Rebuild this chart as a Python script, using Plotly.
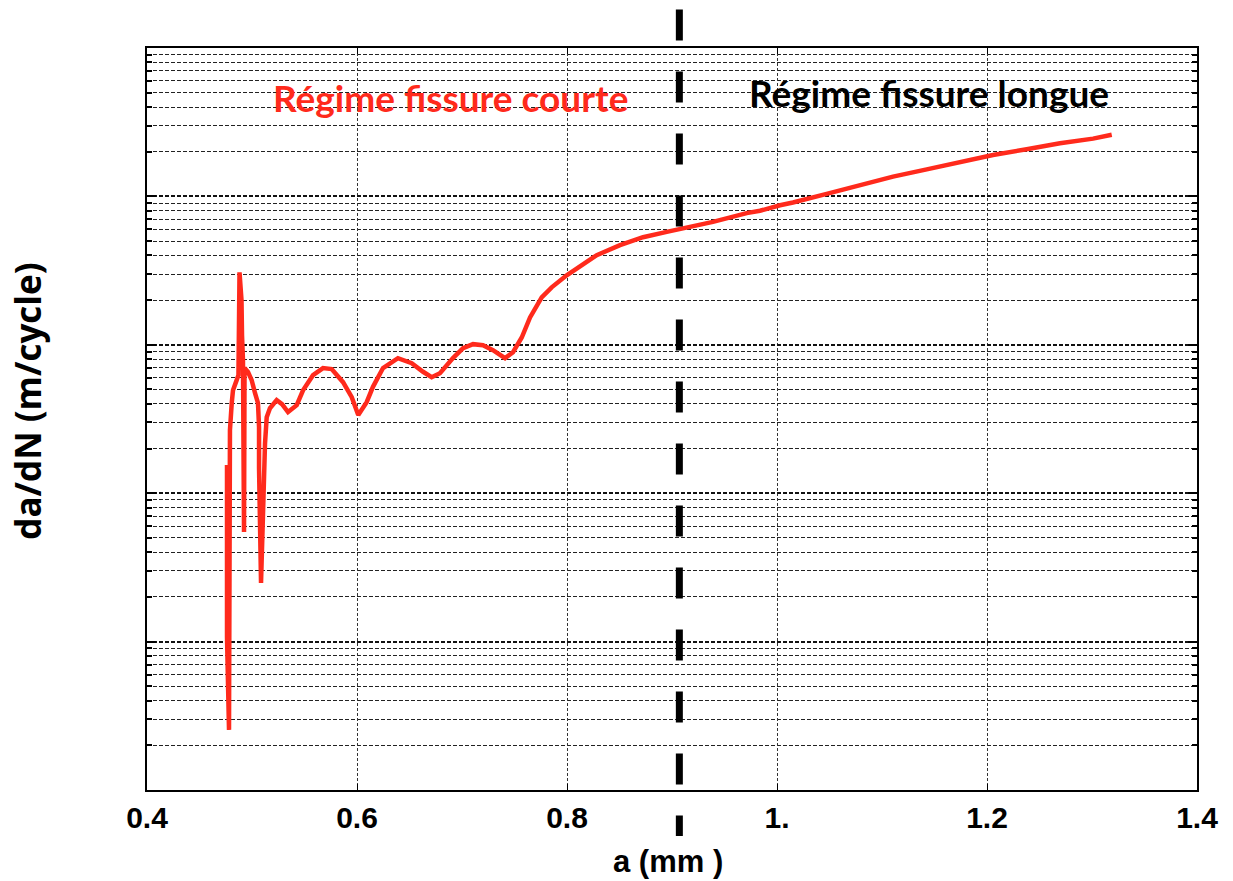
import plotly.graph_objects as go

# crack length a (mm) and crack growth rate da/dN (m/cycle)
a_mm = [0.4762, 0.4762, 0.4781, 0.4790, 0.4807, 0.4819, 0.4854, 0.4871, 0.4881, 0.4900,
        0.4905, 0.4914, 0.4924, 0.4929, 0.4962, 0.4997, 0.5029, 0.5057, 0.5067, 0.5067,
        0.5086, 0.5105, 0.5124, 0.5140, 0.5171, 0.5235, 0.5286, 0.5343, 0.5426, 0.5486,
        0.5581, 0.5676, 0.5759, 0.5867, 0.5950, 0.6012, 0.6092, 0.6152, 0.6248, 0.6390,
        0.6521, 0.6629, 0.6711, 0.6790, 0.6914, 0.7010, 0.7105, 0.7200, 0.7295, 0.7410,
        0.7486, 0.7569, 0.7648, 0.7759, 0.7854, 0.7997, 0.8124, 0.8283, 0.8505, 0.8724,
        0.8950, 0.9076, 0.9390, 0.9711, 0.9838, 1.0029, 1.0152, 1.0473, 1.0790, 1.1105,
        1.1426, 1.1743, 1.2057, 1.2378, 1.2695, 1.3010, 1.3188]
dadn = [1.55e-8, 1.07e-9, 2.54e-10, 2.66e-8, 4.05e-8, 4.94e-8, 5.78e-8, 6.24e-8, 3.08e-7, 2.0e-7,
        1.16e-7, 7.87e-8, 5.47e-9, 6.97e-8, 6.55e-8, 5.78e-8, 4.72e-8, 4.05e-8, 2.79e-8, 1.48e-8,
        2.48e-9, 8.97e-9, 2.17e-8, 3.25e-8, 3.74e-8, 4.24e-8, 3.98e-8, 3.52e-8, 3.92e-8, 4.94e-8,
        6.24e-8, 6.97e-8, 6.86e-8, 5.6e-8, 4.44e-8, 3.36e-8, 4.11e-8, 5.21e-8, 6.97e-8, 8.13e-8,
        7.52e-8, 6.58e-8, 6.05e-8, 6.44e-8, 8.13e-8, 9.48e-8, 1.01e-7, 9.93e-8, 9.2e-8, 8.13e-8,
        8.91e-8, 1.12e-7, 1.53e-7, 2.09e-7, 2.44e-7, 2.94e-7, 3.39e-7, 4.02e-7, 4.69e-7, 5.31e-7,
        5.77e-7, 6.01e-7, 6.73e-7, 7.71e-7, 8.0e-7, 8.71e-7, 9.1e-7, 1.04e-6, 1.19e-6, 1.36e-6,
        1.52e-6, 1.70e-6, 1.90e-6, 2.08e-6, 2.28e-6, 2.45e-6, 2.60e-6]

transition_a = 0.907  # short / long crack regime boundary (mm)

x_tickvals = [0.4, 0.6, 0.8, 1.0, 1.2, 1.4]
x_ticktext = ["0.4", "0.6", "0.8", "1.", "1.2", "1.4"]

label_short = "Régime fissure courte"
label_long = "Régime fissure longue"
x_title = "a (mm )"
y_title = "da/dN (m/cycle)"

fig = go.Figure()
fig.add_trace(go.Scatter(
    x=a_mm, y=dadn, mode="lines",
    line=dict(color="#FF2A1C", width=4.5),
    showlegend=False, hoverinfo="x+y",
))

fig.add_shape(type="line", xref="x", yref="paper",
              x0=transition_a, x1=transition_a, y0=1.052, y1=-0.062,
              line=dict(color="black", width=7, dash="31px,31px"), layer="above")

fig.update_layout(
    width=1233, height=881,
    margin=dict(l=147, r=36, t=48, b=91),
    paper_bgcolor="white", plot_bgcolor="white",
    font=dict(family="Liberation Sans", color="black"),
    xaxis=dict(
        range=[0.4, 1.4], tickvals=x_tickvals, ticktext=x_ticktext,
        showline=True, linecolor="black", linewidth=2, mirror="ticks",
        ticks="inside", ticklen=6, tickcolor="black", tickwidth=1,
        showgrid=True, gridcolor="#333", gridwidth=1, griddash="3px,2px",
        zeroline=False,
        tickfont=dict(family="Liberation Sans", size=30, color="black", weight="bold"),
    ),
    yaxis=dict(
        type="log", range=[-10, -5], dtick=1,
        showticklabels=False,
        showline=True, linecolor="black", linewidth=2, mirror="ticks",
        ticks="inside", ticklen=9, tickcolor="black", tickwidth=2,
        showgrid=True, gridcolor="#111", gridwidth=1.5, griddash="4px,2px",
        zeroline=False,
        minor=dict(dtick="D1", showgrid=True, gridcolor="#222", gridwidth=1,
                   griddash="4px,2px", ticks="inside", ticklen=5, tickcolor="black"),
    ),
    annotations=[
        dict(text=label_short, xref="paper", yref="paper", x=0.2895, y=0.9336,
             showarrow=False, xanchor="center", yanchor="middle",
             font=dict(family="Lato", size=37, color="#FF2A1C", weight="bold")),
        dict(text=label_long, xref="paper", yref="paper", x=0.7448, y=0.9403,
             showarrow=False, xanchor="center", yanchor="middle",
             font=dict(family="Lato", size=37, color="black", weight="bold")),
        dict(text=x_title, xref="paper", yref="paper", x=0.496, y=-0.097,
             showarrow=False, xanchor="center", yanchor="middle",
             font=dict(family="Liberation Sans", size=31, color="black", weight="bold")),
        dict(text=y_title, xref="paper", yref="paper", x=-0.1138, y=0.524,
             showarrow=False, xanchor="center", yanchor="middle", textangle=-90,
             font=dict(family="Open Sans", size=35, color="black", weight="bold")),
    ],
)

fig.write_html(
    "out.html",
    config={"displayModeBar": False},
    post_script="document.body.style.margin='0px';document.body.style.overflow='hidden';",
)
